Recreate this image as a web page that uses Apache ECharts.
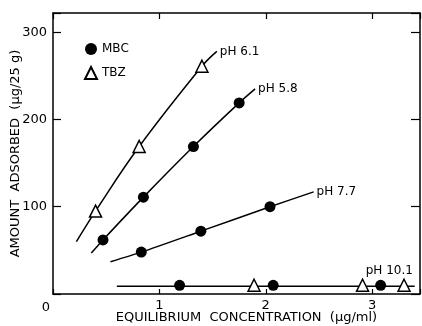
<!DOCTYPE html>
<html>
<head>
<meta charset="UTF-8">
<script src="https://cdn.jsdelivr.net/npm/echarts@6/dist/echarts.min.js"></script>
</head>
<body style="margin:0;background:#fff">
<div id="main" style="width:422px;height:326px;"></div>
<script>
// tick labels
var xTicks = [0, 1, 2, 3];
var yTicks = [100, 200, 300];

// measured points (concentration, amount)
var mbcPoints = [[0.47, 62], [0.85, 111], [1.32, 169], [1.75, 219],
                 [0.83, 48], [1.39, 72], [2.04, 100],
                 [1.19, 10], [2.07, 10], [3.08, 10]];
var tbzPoints = [[0.40, 95], [0.81, 169], [1.40, 261],
                 [1.89, 10], [2.91, 10], [3.30, 10]];

// fitted curves, drawn through the points
var curve61 = [[0.22, 60], [0.40, 95], [0.81, 169], [1.40, 261], [1.54, 278]];
var curve58 = [[0.36, 47], [0.47, 62], [0.85, 111], [1.32, 169], [1.75, 219], [1.90, 235]];
var curve77 = [[0.54, 37], [0.83, 48], [1.39, 72], [2.04, 100], [2.45, 117]];
var curve101 = [[0.60, 9], [3.40, 9]];

var curveNames = ['pH 6.1', 'pH 5.8', 'pH 7.7', 'pH 10.1'];

var font = 'DejaVu Sans';

function curve(data, label, smooth, offset) {
    return {
        type: 'line',
        data: data,
        symbol: 'none',
        smooth: smooth,
        z: 1,
        lineStyle: { color: '#000', width: 1.5 },
        endLabel: {
            show: true,
            formatter: label,
            color: '#000',
            fontFamily: font,
            fontSize: 12,
            offset: offset || [0, 0],
            distance: 3
        }
    };
}

var chart = echarts.init(document.getElementById('main'));
var option = {
    animation: false,
    backgroundColor: '#fff',
    grid: { left: 53, right: 2, top: 13, bottom: 32, outerBoundsMode: 'none', containLabel: false },
    legend: {
        data: ['MBC', 'TBZ'],
        orient: 'vertical',
        left: 79, top: 38,
        itemWidth: 12, itemHeight: 12,
        itemGap: 11,
        textStyle: { color: '#000', fontFamily: font, fontSize: 12 }
    },
    xAxis: [{
        type: 'value',
        min: 0, max: 3.45, interval: 1,
        name: 'EQUILIBRIUM  CONCENTRATION  (\u03bcg/ml)',
        nameLocation: 'middle',
        nameGap: 17,
        nameMoveOverlap: false,
        nameTextStyle: { color: '#000', fontFamily: font, fontSize: 13, padding: [0, 0, 0, 20] },
        axisLine: { onZero: false, lineStyle: { color: '#000', width: 1.5 } },
        axisTick: { inside: true, length: 5, lineStyle: { color: '#000', width: 1.2 } },
        axisLabel: {
            color: '#000', fontFamily: font, fontSize: 13, margin: 5,
            formatter: function (v) {
                if (xTicks.indexOf(v) < 0) return '';
                return v === 0 ? '{o|0}' : String(v);
            },
            rich: { o: { color: '#000', fontFamily: font, fontSize: 13, padding: [2, 14, 0, 0] } }
        },
        splitLine: { show: false }
    }, {
        type: 'value', position: 'top',
        min: 0, max: 3.45, interval: 1,
        axisLine: { show: true, onZero: false, lineStyle: { color: '#000', width: 1.5 } },
        axisTick: { inside: true, length: 6, lineStyle: { color: '#000', width: 1.2 } },
        axisLabel: { show: false },
        splitLine: { show: false }
    }],
    yAxis: [{
        type: 'value',
        min: 0, max: 322, interval: 100,
        name: 'AMOUNT  ADSORBED  (\u03bcg/25 g)',
        nameLocation: 'middle',
        nameGap: 31,
        nameMoveOverlap: false,
        nameTextStyle: { color: '#000', fontFamily: font, fontSize: 13 },
        axisLine: { show: true, onZero: false, lineStyle: { color: '#000', width: 1.5 } },
        axisTick: { inside: true, length: 8, lineStyle: { color: '#000', width: 1.2 } },
        axisLabel: {
            color: '#000', fontFamily: font, fontSize: 13, margin: 6,
            formatter: function (v) { return yTicks.indexOf(v) >= 0 ? String(v) : ''; }
        },
        splitLine: { show: false }
    }, {
        type: 'value', position: 'right',
        min: 0, max: 322, interval: 100,
        axisLine: { show: true, onZero: false, lineStyle: { color: '#000', width: 1.5 } },
        axisTick: { inside: true, length: 9, lineStyle: { color: '#000', width: 1.2 } },
        axisLabel: { show: false },
        splitLine: { show: false }
    }],
    series: [
        curve(curve61, curveNames[0], 0.4),
        curve(curve58, curveNames[1], 0.25),
        curve(curve77, curveNames[2], 0.25),
        curve(curve101, curveNames[3], false, [-52, -15]),
        {
            name: 'MBC', type: 'scatter', data: mbcPoints, z: 3,
            symbol: 'circle', symbolSize: 11,
            itemStyle: { color: '#000', opacity: 1 }
        },
        {
            name: 'TBZ', type: 'scatter', data: tbzPoints, z: 3,
            symbol: 'triangle', symbolSize: 12,
            itemStyle: { color: '#fff', borderColor: '#000', borderWidth: 1.5, opacity: 1 }
        }
    ]
};
chart.setOption(option);
</script>
</body>
</html>
